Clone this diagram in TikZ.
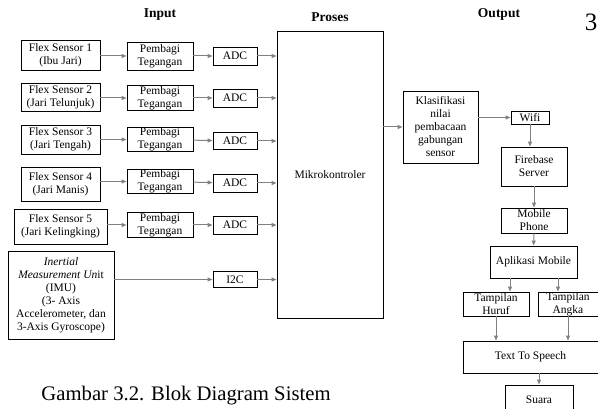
\documentclass[tikz,border=0pt]{standalone}
\usepackage{fontspec}
\setmainfont{Liberation Serif}
\usetikzlibrary{arrows.meta}

\begin{document}
\begin{tikzpicture}[x=1pt, y=-1pt,
  blok/.style={draw, line width=0.9pt, align=center, inner sep=0pt, font=\fontsize{11.5}{13}\selectfont},
  judul/.style={font=\fontsize{13.5}{15}\selectfont\bfseries},
  panah/.style={draw=gray, line width=1pt, -{Triangle[length=5pt, width=4pt]}}]
  \useasboundingbox (0,0) rectangle (598,409);
  \node[judul] (jinput) at (160,15) {Input};
  \node[judul] (jproses) at (330,17) {Proses};
  \node[judul] (joutput) at (499,14) {Output};
  \node[font=\fontsize{25}{27}\selectfont] (hal) at (591,22) {3};
  \node[blok, minimum width=79pt, minimum height=30pt] (flex1) at (60.5,55) {Flex Sensor 1\\(Ibu Jari)};
  \node[blok, minimum width=66pt, minimum height=28pt] (bagi1) at (160,56) {Pembagi\\Tegangan};
  \node[blok, minimum width=44pt, minimum height=18pt] (adc1) at (235,56) {ADC};
  \node[blok, minimum width=79pt, minimum height=28pt] (flex2) at (60.5,97.5) {Flex Sensor 2\\(Jari Telunjuk)};
  \node[blok, minimum width=66pt, minimum height=25pt] (bagi2) at (160,98) {Pembagi\\Tegangan};
  \node[blok, minimum width=44pt, minimum height=18pt] (adc2) at (235,98) {ADC};
  \node[blok, minimum width=79pt, minimum height=29pt] (flex3) at (60.5,139.5) {Flex Sensor 3\\(Jari Tengah)};
  \node[blok, minimum width=66pt, minimum height=24pt] (bagi3) at (160,139.5) {Pembagi\\Tegangan};
  \node[blok, minimum width=44pt, minimum height=17pt] (adc3) at (235,141) {ADC};
  \node[blok, minimum width=79pt, minimum height=34pt] (flex4) at (60.5,184) {Flex Sensor 4\\(Jari Manis)};
  \node[blok, minimum width=66pt, minimum height=24pt] (bagi4) at (160,181.5) {Pembagi\\Tegangan};
  \node[blok, minimum width=44pt, minimum height=18pt] (adc4) at (235,183) {ADC};
  \node[blok, minimum width=93pt, minimum height=35pt] (flex5) at (60.5,226.5) {Flex Sensor 5\\(Jari Kelingking)};
  \node[blok, minimum width=66pt, minimum height=25pt] (bagi5) at (160,225) {Pembagi\\Tegangan};
  \node[blok, minimum width=44pt, minimum height=18pt] (adc5) at (235,225) {ADC};
  \node[blok, minimum width=106pt, minimum height=88pt] (imu) at (61,295) {\textit{Inertial}\\\textit{Measurement Un}it\\(IMU)\\(3- Axis\\Accelerometer, dan\\3-Axis Gyroscope)};
  \node[blok, minimum width=44pt, minimum height=16pt] (i2c) at (235,279.5) {I2C};
  \node[blok, minimum width=106pt, minimum height=287pt] (mikro) at (330,174.5) {Mikrokontroler};
  \node[blok, minimum width=75pt, minimum height=72pt] (klas) at (440.5,127) {Klasifikasi\\nilai\\pembacaan\\gabungan\\sensor};
  \node[blok, minimum width=38pt, minimum height=13pt] (wifi) at (530,117.5) {Wifi};
  \node[blok, minimum width=66pt, minimum height=39pt] (firebase) at (534,166.5) {Firebase\\Server};
  \node[blok, minimum width=66pt, minimum height=25pt] (hp) at (534,220.5) {Mobile\\Phone};
  \node[blok, minimum width=87pt, minimum height=32pt] (apk) at (533.5,262) {Aplikasi Mobile};
  \node[blok, minimum width=66pt, minimum height=24pt] (huruf) at (496,304) {Tampilan\\Huruf};
  \node[blok, minimum width=60pt, minimum height=24pt] (angka) at (568,304) {Tampilan\\Angka};
  \node[blok, minimum width=135pt, minimum height=32pt] (tts) at (530.5,357) {Text To Speech};
  \node[blok, minimum width=68pt, minimum height=30pt, text depth=-4pt] (suara) at (539,400) {Suara};
  \node[anchor=base, font=\fontsize{20.7}{23}\selectfont] (caption) at (186,400) {Gambar 3.2. Blok Diagram Sistem};
  \foreach \i in {1,...,5}{
    \draw[panah] (flex\i.east |- bagi\i) -- (bagi\i);
    \draw[panah] (bagi\i) -- (adc\i);
    \draw[panah] (adc\i) -- (adc\i -| mikro.west);
  }
  \draw[panah] (imu.east |- i2c) -- (i2c);
  \draw[panah] (i2c) -- (i2c -| mikro.west);
  \draw[panah] (mikro.east |- klas) -- (klas);
  \draw[panah] (klas.east |- wifi) -- (wifi);
  \draw[panah] (wifi.south) -- (wifi.south |- firebase.north);
  \draw[panah] (firebase) -- (hp);
  \draw[panah] (hp) -- (apk);
  \draw[panah] ([xshift=14pt]huruf.north |- apk.south) -- ([xshift=14pt]huruf.north);
  \draw[panah] ([xshift=-10pt]angka.north |- apk.south) -- ([xshift=-10pt]angka.north);
  \draw[panah] (huruf) -- (huruf |- tts.north);
  \draw[panah] (angka) -- (angka |- tts.north);
  \draw[panah] (suara |- tts.south) -- (suara);
\end{tikzpicture}
\end{document}
